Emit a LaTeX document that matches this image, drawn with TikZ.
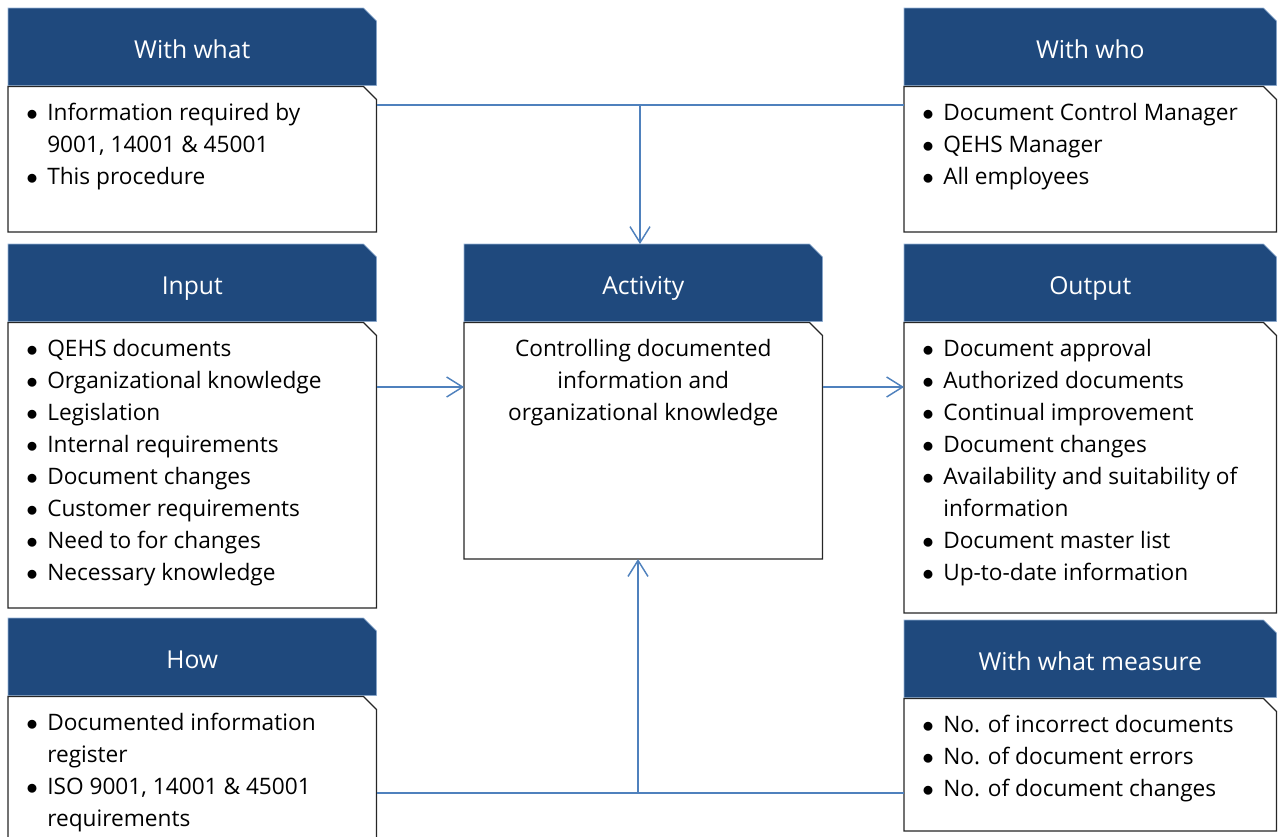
\documentclass[tikz,border=0pt]{standalone}
\usepackage{fontspec}
\setmainfont{Open Sans}
\usepackage{enumitem}
\usetikzlibrary{positioning}
\usetikzlibrary{arrows.meta}
\usetikzlibrary{backgrounds}

\definecolor{hdrblue}{HTML}{1F497D}
\definecolor{linkblue}{HTML}{4F81BD}

\setlist[itemize]{label=$\bullet$, leftmargin=29.25pt, labelsep=7pt,
  itemsep=0pt, topsep=0pt, parsep=0pt, partopsep=0pt}

\tikzset{
  head/.style={rectangle, inner sep=0pt, anchor=north west, minimum height=57.75pt,
    text height=17.5pt, text depth=0pt, text=white, font=\fontsize{18.5}{24}\selectfont},
  body/.style={rectangle, inner sep=0pt, font=\fontsize{17}{24}\selectfont},
  link/.style={draw=linkblue, line width=1.1pt},
  arr/.style={link, -{Straight Barb[length=12pt,width=15pt]}},
}

% box with its top right corner cut off
\newcommand{\snipped}[2]{%
  \path[#2] (#1.south west) -- (#1.north west) -- ([xshift=-9.75pt]#1.north east)
    -- ([yshift=-9.75pt]#1.north east) -- (#1.south east) -- cycle;}
% top aligned text of a body box: height, width, text
\newcommand{\boxtext}[3]{\begin{minipage}[t][#1][t]{#2}\raggedright\vspace*{8.6pt}#3\end{minipage}}

\begin{document}
\begin{tikzpicture}[x=0.75pt, y=-0.75pt]
	\useasboundingbox (0,0) rectangle (1281,836);
	% headers
	\node[head, minimum width=276pt] (whatH) at (8,8) {With what};
	\node[head, minimum width=279pt] (whoH) at (904,8) {With who};
	\node[head, minimum width=276pt] (inH) at (8,244) {Input};
	\node[head, minimum width=268.5pt] (actH) at (464,244) {Activity};
	\node[head, minimum width=279pt] (outH) at (904,244) {Output};
	\node[head, minimum width=276pt] (howH) at (8,618) {How};
	\node[head, minimum width=279pt] (measH) at (904,620) {With what measure};
	% bodies
	\node[body, below=0.75pt of whatH] (whatB) {\boxtext{108.75pt}{276pt}{%
	  \begin{itemize}
	    \item\strut Information required by\\9001, 14001 \& 45001
	    \item\strut This procedure
	  \end{itemize}}};
	\node[body, below=0.75pt of whoH] (whoB) {\boxtext{108.75pt}{279pt}{%
	  \begin{itemize}
	    \item\strut Document Control Manager
	    \item\strut QEHS Manager
	    \item\strut All employees
	  \end{itemize}}};
	\node[body, below=0.75pt of inH] (inB) {\boxtext{213.75pt}{276pt}{%
	  \begin{itemize}
	    \item\strut QEHS documents
	    \item\strut Organizational knowledge
	    \item\strut Legislation
	    \item\strut Internal requirements
	    \item\strut Document changes
	    \item\strut Customer requirements
	    \item\strut Need to for changes
	    \item\strut Necessary knowledge
	  \end{itemize}}};
	\node[body, below=0.75pt of actH] (actB) {\boxtext{177pt}{268.5pt}{%
	  \centering\strut Controlling documented\\information and\\organizational knowledge}};
	\node[body, below=0.75pt of outH] (outB) {\boxtext{217.5pt}{279pt}{%
	  \begin{itemize}
	    \item\strut Document approval
	    \item\strut Authorized documents
	    \item\strut Continual improvement
	    \item\strut Document changes
	    \item\strut Availability and suitability of\\information
	    \item\strut Document master list
	    \item\strut Up-to-date information
	  \end{itemize}}};
	\node[body, below=0.75pt of howH] (howB) {\boxtext{115pt}{276pt}{%
	  \begin{itemize}
	    \item\strut Documented information\\register
	    \item\strut ISO 9001, 14001 \& 45001\\requirements
	  \end{itemize}}};
	\node[body, below=0.75pt of measH] (measB) {\boxtext{99pt}{279pt}{%
	  \begin{itemize}
	    \item\strut No. of incorrect documents
	    \item\strut No. of document errors
	    \item\strut No. of document changes
	  \end{itemize}}};
	% box shapes
	\begin{scope}[on background layer]
	  \foreach \h in {whatH, whoH, inH, actH, outH, howH, measH}
	    \snipped{\h}{fill=hdrblue, draw=linkblue!60, line width=0.4pt};
	  \foreach \b in {whatB, whoB, inB, actB, outB, howB, measB}
	    \snipped{\b}{fill=white, draw=black!85, line width=1pt};
	\end{scope}
	% connectors
	\coordinate (topJ) at (640,105);
	\coordinate (midJ) at (0,387);
	\coordinate (botJ) at (638,793);
	\draw[link] (whatB.east |- topJ) -- (whoB.west |- topJ);
	\draw[arr] (topJ) -- (topJ |- actH.north);
	\draw[arr] (inB.east |- midJ) -- (actB.west |- midJ);
	\draw[arr] (actB.east |- midJ) -- (outB.west |- midJ);
	\draw[link] (howB.east |- botJ) -- (measB.west |- botJ);
	\draw[arr] (botJ) -- (botJ |- actB.south);
\end{tikzpicture}
\end{document}
